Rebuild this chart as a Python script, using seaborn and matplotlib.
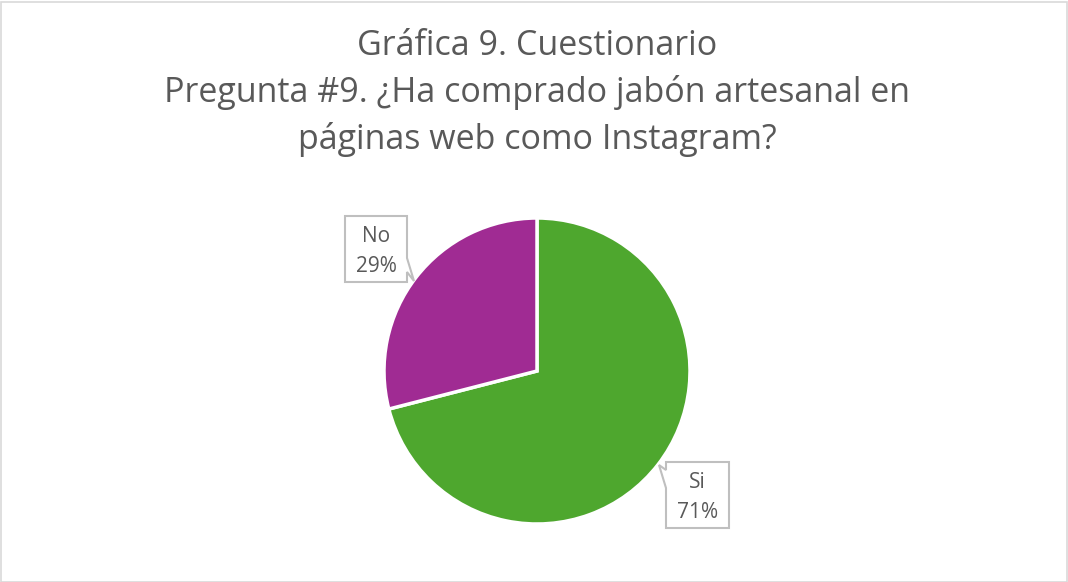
import matplotlib
matplotlib.use("Agg")
import matplotlib.pyplot as plt
import seaborn as sns
from matplotlib.patches import Polygon, Rectangle

sns.set_theme(style="white")
plt.rcParams['font.family'] = ['Open Sans', 'DejaVu Sans']

categories = ["Si", "No"]
values = [71, 29]
colors = ["#4EA72E", "#A02B93"]
title = "Gráfica 9. Cuestionario\nPregunta #9. ¿Ha comprado jabón artesanal en\npáginas web como Instagram?"

W, H = 1068, 582
fig = plt.figure(figsize=(W / 100, H / 100), dpi=100)
fig.patch.set_facecolor("white")
ax = fig.add_axes([0, 0, 1, 1])

def Y(y):
    return H - y

ax.pie(values, colors=colors, startangle=90, counterclock=False,
       center=(537, Y(371)), radius=153, frame=True,
       wedgeprops=dict(edgecolor="white", linewidth=2.5))
ax.set_xlim(0, W)
ax.set_ylim(0, H)
ax.axis("off")

txt = "#595959"
ax.text(537, Y(93), title, ha="center", va="center", fontsize=24.5,
        color=txt, linespacing=1.45)

total = sum(values)
callouts = {
    "No": dict(box=(345, 216, 407, 282),
               pts=[(345, 216), (407, 216), (407, 258), (414, 281), (407, 272), (407, 282), (345, 282)]),
    "Si": dict(box=(666, 462, 729, 528),
               pts=[(666, 462), (729, 462), (729, 528), (666, 528), (666, 488), (659, 465), (666, 470)]),
}
for cat, v in zip(categories, values):
    c = callouts[cat]
    x0, y0, x1, y1 = c["box"]
    poly = Polygon([(x, Y(y)) for x, y in c["pts"]], closed=True,
                   facecolor="white", edgecolor="#BFBFBF", linewidth=1.5, zorder=5)
    ax.add_patch(poly)
    cx = (x0 + x1) / 2
    ax.text(cx, Y(y0 + 20), cat, ha="center", va="center", fontsize=15, color=txt, zorder=6)
    ax.text(cx, Y(y0 + 50), f"{round(v / total * 100)}%", ha="center", va="center",
            fontsize=15, color=txt, zorder=6)

fig.patches.append(Rectangle((0.5 / W, 0.5 / H), 1 - 2 / W, 1 - 2 / H, transform=fig.transFigure,
                             fill=False, edgecolor="#D9D9D9", linewidth=1.2))
fig.savefig("out.png", dpi=100, facecolor="white")
